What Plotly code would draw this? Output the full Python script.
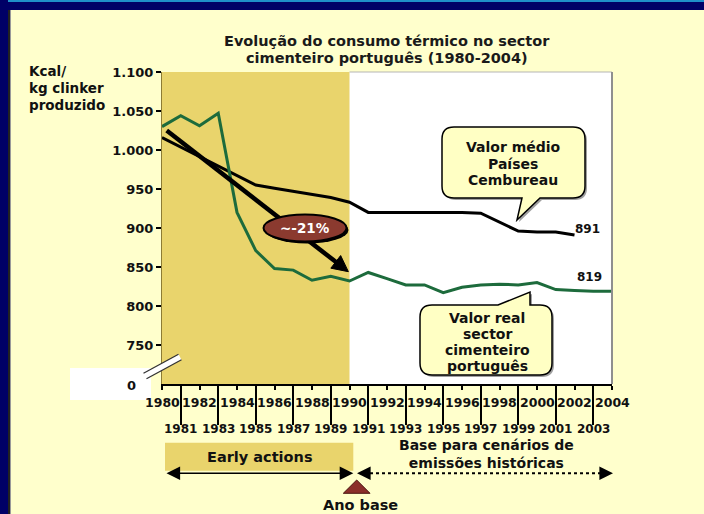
import plotly.graph_objects as go

# ---------------------------------------------------------------- data
years = list(range(1980, 2005))
pt_consumption = [1030, 1044, 1031, 1047, 920, 871, 848, 846, 833, 838, 832,
                  843, 835, 827, 827, 817, 824, 827, 828, 827, 830, 821, 820,
                  819, 819]
cemb_years = list(range(1980, 2003))
cemb_consumption = [1016, 1004, 992, 980, 967, 955, 951, 947, 943, 939, 933,
                    920, 920, 920, 920, 920, 920, 919, 907, 896, 895, 895, 891]
y_tick_values = [750, 800, 850, 900, 950, 1000, 1050, 1100]
even_years = [y for y in years if y % 2 == 0]
odd_years = [y for y in years if y % 2 == 1]
base_year = 1990
trend_start = (1980.25, 1025)
trend_end = (1989.94, 844)
reduction_label = "~-21%"

# ---------------------------------------------------------------- frame
W, H = 704, 514
L, R, T, B = 162, 612, 72, 384
X0, X1 = 1980, 2004
Y0, Y1 = 700, 1100

FONT = "DejaVu Sans"
INK = "#111111"
BG = "#FFFFCC"
GOLD = "#E9D46C"
GREEN = "#1d6b3c"
BROWN = "#8B3A2F"
NOTE_FILL = "#FFFFC4"


def sx(year):
    return L + (year - X0) / (X1 - X0) * (R - L)


def sy(v):
    return B - (v - Y0) / (Y1 - Y0) * (B - T)


def px(p):
    return (p - L) / (R - L)


def py(p):
    return (B - p) / (B - T)


def path(segs):
    out = []
    for s in segs:
        if s[0] == "Z":
            out.append("Z")
        else:
            pts = " ".join(f"{px(x):.5f},{py(y):.5f}" for x, y in s[1:])
            out.append(s[0] + pts)
    return " ".join(out)


def bubble(x0, y0, x1, y1, r, side, tail, dx=0, dy=0):
    """Rounded box with a pointer; tail = (base_a, tip, base_b) in px."""
    x0, x1, y0, y1 = x0 + dx, x1 + dx, y0 + dy, y1 + dy
    tail = [(a + dx, b + dy) for a, b in tail]
    segs = [("M", (x0 + r, y0))]
    if side == "top":
        segs += [("L", p) for p in tail]
    segs += [("L", (x1 - r, y0)), ("Q", (x1, y0), (x1, y0 + r)),
             ("L", (x1, y1 - r)), ("Q", (x1, y1), (x1 - r, y1))]
    if side == "bottom":
        segs += [("L", p) for p in tail]
    segs += [("L", (x0 + r, y1)), ("Q", (x0, y1), (x0, y1 - r)),
             ("L", (x0, y0 + r)), ("Q", (x0, y0), (x0 + r, y0)), ("Z",)]
    return path(segs)


def rect(x0, y0, x1, y1, color, layer="above"):
    return dict(type="rect", xref="paper", yref="paper",
                x0=px(x0), x1=px(x1), y0=py(y1), y1=py(y0),
                fillcolor=color, line=dict(width=0), layer=layer)


def seg(x0, y0, x1, y1, color, width, dash="solid"):
    return dict(type="line", xref="paper", yref="paper",
                x0=px(x0), y0=py(y0), x1=px(x1), y1=py(y1),
                line=dict(color=color, width=width, dash=dash))


def label(text, x, y, size=13, bold=True, color=INK, xanchor="center",
          xref="paper"):
    return dict(text=text, x=(x if xref == "x" else px(x)), y=py(y),
                xref=xref, yref="paper", showarrow=False,
                xanchor=xanchor, yanchor="middle",
                font=dict(family=FONT, size=size, color=color,
                          weight="bold" if bold else "normal"))


fig = go.Figure()

# consumption series
fig.add_trace(go.Scatter(x=cemb_years, y=cemb_consumption, mode="lines",
                         line=dict(color="#000000", width=3),
                         hoverinfo="skip"))
fig.add_trace(go.Scatter(x=years, y=pt_consumption, mode="lines",
                         line=dict(color=GREEN, width=3),
                         hoverinfo="skip"))

shapes = []
annotations = []

# slide border
shapes.append(rect(0, 0, W, 10, "#000066"))
shapes.append(rect(0, 0, W, 2, "#1f8fc8"))
shapes.append(rect(0, 0, 8, H, "#000066"))
shapes.append(rect(8, 10, 10, H, "#222222"))
shapes.append(rect(10, 10, 11, H, "#9a9a9a"))

# early-actions period shading
shapes.append(dict(type="rect", xref="x", yref="paper", x0=X0, x1=base_year,
                   y0=0, y1=1, fillcolor=GOLD, line=dict(width=0),
                   layer="below"))
# plot frame edges on the white part
shapes.append(seg(sx(base_year), T, R, T, "#b5b5b5", 1))
shapes.append(seg(R, T, R, B, "#8f8f8f", 2))

# axis break and "0" label box
shapes.append(rect(70, 368, 151, 400, "white"))
bx0, by0, bx1, by1 = 145, 376, 180, 357
shapes.append(seg(bx0, by0, bx1, by1, "white", 6))
shapes.append(seg(bx0 - 1.5, by0 - 2.7, bx1 - 1.5, by1 - 2.7, "#333333", 1.3))
shapes.append(seg(bx0 + 1.5, by0 + 2.7, bx1 + 1.5, by1 + 2.7, "#333333", 1.3))
annotations.append(label("0", 131, 385, size=13))

# trend arrow (shaft + head), drawn below the percentage badge
tx0, ty0 = sx(trend_start[0]), sy(trend_start[1])
tx1, ty1 = sx(trend_end[0]), sy(trend_end[1])
dxa, dya = tx1 - tx0, ty1 - ty0
ln = (dxa ** 2 + dya ** 2) ** 0.5
ux, uy = dxa / ln, dya / ln
head_len, head_half = 16, 8
bxh, byh = tx1 - head_len * ux, ty1 - head_len * uy
shapes.append(seg(tx0, ty0, bxh + 2 * ux, byh + 2 * uy, "#000000", 4.5))
shapes.append(dict(type="path", xref="paper", yref="paper",
                   path=path([("M", (tx1, ty1)),
                              ("L", (bxh - head_half * uy, byh + head_half * ux)),
                              ("L", (bxh + head_half * uy, byh - head_half * ux)),
                              ("Z",)]),
                   fillcolor="#000000", line=dict(color="#000000", width=1)))

# percentage badge
ecx, ecy, erx, ery = 305, 228, 41.5, 13.5
shapes.append(dict(type="circle", xref="paper", yref="paper",
                   x0=px(ecx - erx + 2), x1=px(ecx + erx + 2),
                   y0=py(ecy + ery + 2), y1=py(ecy - ery + 2),
                   fillcolor="#000000", line=dict(width=0)))
shapes.append(dict(type="circle", xref="paper", yref="paper",
                   x0=px(ecx - erx), x1=px(ecx + erx),
                   y0=py(ecy + ery), y1=py(ecy - ery),
                   fillcolor=BROWN, line=dict(color="#000000", width=2)))
annotations.append(label(reduction_label, ecx, ecy, size=13.5, color="white"))

# callouts
callouts = [
    dict(box=(442, 127, 585, 198), side="bottom",
         tail=[(540, 198), (517, 220), (522, 198)],
         lines=["Valor médio", "Países", "Cembureau"], cx=513,
         ys=[147, 163.5, 180]),
    dict(box=(420, 305, 552, 375), side="top",
         tail=[(498, 305), (530, 292), (530, 305)],
         lines=["Valor real", "sector", "cimenteiro", "português"], cx=487,
         ys=[317.5, 333.5, 349.5, 366]),
]
for c in callouts:
    shapes.append(dict(type="path", xref="paper", yref="paper",
                       path=bubble(*c["box"], 12, c["side"], c["tail"], 2, 2),
                       fillcolor="#a0a0a0", line=dict(width=0)))
    shapes.append(dict(type="path", xref="paper", yref="paper",
                       path=bubble(*c["box"], 12, c["side"], c["tail"]),
                       fillcolor=NOTE_FILL,
                       line=dict(color="#000000", width=1.5)))
    for text, yy in zip(c["lines"], c["ys"]):
        annotations.append(label(text, c["cx"], yy, size=14))

# end-value labels
annotations.append(dict(text=str(cemb_consumption[-1]), x=cemb_years[-1],
                        y=cemb_consumption[-1], xref="x", yref="y",
                        xshift=13, yshift=6, xanchor="center",
                        showarrow=False,
                        font=dict(family=FONT, size=12, color=INK,
                                  weight="bold")))
annotations.append(dict(text=str(pt_consumption[-1]), x=years[-1] - 1,
                        y=pt_consumption[-1], xref="x", yref="y",
                        xshift=-4, yshift=14, xanchor="center",
                        showarrow=False,
                        font=dict(family=FONT, size=12, color=INK,
                                  weight="bold")))

# x tick labels in two staggered rows
for yr in even_years:
    annotations.append(label(str(yr), yr, 402, size=12.5, xref="x"))
for yr in odd_years:
    annotations.append(label(str(yr), yr, 429, size=12, xref="x"))

# title and y-axis caption
for text, yy in zip(["Evolução do consumo térmico no sector",
                     "cimenteiro português (1980-2004)"], [41, 58]):
    annotations.append(label(text, 387, yy, size=14.5, bold=True,
                             color="#1a1a1a"))
for text, yy in zip(["Kcal/", "kg clinker", "produzido"], [71, 88, 105]):
    annotations.append(label(text, 27, yy, size=13.5, xanchor="left"))

# period bar below the axis
shapes.append(rect(165, 442.7, 353.3, 470.7, GOLD))
annotations.append(label("Early actions", 260, 457, size=14.5))
annotations.append(dict(text="", x=px(353.3), y=py(473.3), xref="paper",
                        yref="paper", ax=-(353.3 - 165), ay=0,
                        axref="pixel", ayref="pixel", showarrow=True,
                        arrowhead=2, arrowside="end+start", arrowsize=1.7,
                        arrowwidth=1.6, arrowcolor="#000000"))
shapes.append(seg(364, 473.3, 606, 473.3, "#000000", 2, "dot"))
for tip, back in [(613, 603), (357, 367)]:
    annotations.append(dict(text="", x=px(tip), y=py(473.3), xref="paper",
                            yref="paper", ax=back - tip, ay=0,
                            axref="pixel", ayref="pixel", showarrow=True,
                            arrowhead=2, arrowsize=1.7, arrowwidth=1.6,
                            arrowcolor="#000000"))
annotations.append(label("Base para cenários de<br>emissões históricas",
                         486, 453.5, size=14))
shapes.append(dict(type="path", xref="paper", yref="paper",
                   path=path([("M", (343.3, 493.3)), ("L", (370, 493.3)),
                              ("L", (356.7, 480)), ("Z",)]),
                   fillcolor="#8B2E2A", line=dict(color="#4a1510", width=1)))
annotations.append(label("Ano base", 360.5, 505, size=14.5))

fig.update_layout(
    width=W, height=H,
    margin=dict(l=L, r=W - R, t=T, b=H - B, pad=0),
    paper_bgcolor=BG, plot_bgcolor="white",
    showlegend=False,
    font=dict(family=FONT, color=INK),
    shapes=shapes, annotations=annotations,
    xaxis=dict(range=[X0, X1], showgrid=False, zeroline=False,
               showline=True, linecolor="#000000", linewidth=2,
               ticks="outside", tickvals=even_years, ticklen=4,
               tickwidth=1.5, tickcolor="#000000", showticklabels=False,
               minor=dict(tickvals=odd_years, ticks="outside", ticklen=39,
                          tickwidth=1.5, tickcolor="#000000")),
    yaxis=dict(range=[Y0, Y1], showgrid=False, zeroline=False,
               showline=True, linecolor="#8c7b35", linewidth=1,
               ticks="outside", ticklen=5, tickwidth=1.5,
               tickcolor="#000000", tickvals=y_tick_values,
               ticktext=[f"{v:,}".replace(",", ".") for v in y_tick_values],
               tickfont=dict(family=FONT, size=13, color=INK,
                             weight="bold")),
)

fig.write_html("out.html")
